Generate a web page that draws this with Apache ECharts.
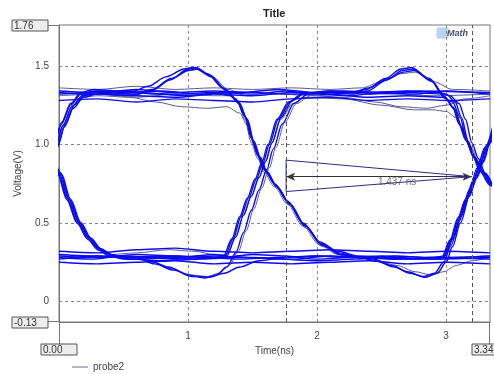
<!DOCTYPE html>
<html>
<head>
<meta charset="utf-8">
<script src="https://cdn.jsdelivr.net/npm/echarts@6/dist/echarts.min.js"></script>
<style>
  html, body { margin: 0; padding: 0; background: #fff; }
  #chart { width: 494px; height: 374px; }
</style>
</head>
<body>
<div id="chart"></div>
<script>
  // axis range (ns / V)
  const xRange = [0, 3.34]
  const yRange = [-0.13, 1.76]

  // eye traces, [time(ns), voltage(V)]
  // traces that start on the high level
  const startHigh = [
    [[0,1.33],[0.25,1.32],[0.5,1.34],[0.75,1.32],[1.0,1.31],[1.25,1.33],[1.5,1.32],[1.75,1.34],[2.0,1.32],[2.25,1.31],[2.5,1.33],[2.75,1.32],[3.0,1.34],[3.34,1.32]],
    [[0,1.28],[0.3,1.29],[0.6,1.27],[0.9,1.29],[1.2,1.28],[1.5,1.27],[1.8,1.29],[2.1,1.30],[2.4,1.28],[2.7,1.29],[3.0,1.28],[3.34,1.29]],
    [[0,1.36],[0.3,1.35],[0.6,1.37],[0.9,1.35],[1.2,1.36],[1.5,1.35],[1.8,1.36],[2.1,1.35],[2.35,1.36],[2.5,1.40],[2.65,1.45],[2.76,1.46],[2.9,1.40],[3.05,1.35],[3.34,1.34]],
    [[0,1.32],[0.3,1.33],[0.6,1.32],[0.72,1.35],[0.87,1.42],[1.0,1.47],[1.07,1.48],[1.18,1.43],[1.30,1.34],[1.39,1.27],[1.46,1.16],[1.51,1.02],[1.56,0.92],[1.61,0.83],[1.69,0.73],[1.79,0.62],[1.91,0.48],[2.04,0.36],[2.18,0.30],[2.34,0.28],[2.6,0.27],[2.9,0.28],[3.34,0.27]],
    [[0,1.34],[0.3,1.33],[0.6,1.35],[0.9,1.33],[1.2,1.34],[1.5,1.33],[1.8,1.32],[2.1,1.34],[2.4,1.33],[2.7,1.34],[2.95,1.33],[3.03,1.31],[3.10,1.26],[3.15,1.16],[3.20,1.01],[3.25,0.91],[3.30,0.82],[3.38,0.73],[3.48,0.62]],
    [[0,1.31],[0.3,1.32],[0.6,1.30],[0.9,1.32],[1.2,1.31],[1.32,1.31],[1.39,1.26],[1.44,1.16],[1.49,1.01],[1.54,0.91],[1.59,0.82],[1.67,0.73],[1.77,0.62],[1.89,0.48],[2.02,0.36],[2.16,0.30],[2.32,0.28],[2.46,0.26],[2.62,0.23],[2.76,0.19],[2.88,0.17],[2.98,0.19],[3.08,0.23],[3.2,0.26],[3.34,0.28]]
  ]

  // traces that start on the low level
  const startLow = [
    [[0,0.28],[0.25,0.27],[0.5,0.29],[0.75,0.28],[1.0,0.27],[1.25,0.28],[1.5,0.30],[1.75,0.29],[2.0,0.27],[2.25,0.28],[2.5,0.29],[2.75,0.27],[3.0,0.28],[3.34,0.29]],
    [[0,0.25],[0.3,0.24],[0.6,0.25],[0.9,0.26],[1.2,0.24],[1.5,0.25],[1.8,0.24],[2.1,0.25],[2.4,0.26],[2.7,0.24],[3.0,0.25],[3.34,0.24]],
    [[0,0.29],[0.3,0.28],[0.6,0.30],[0.9,0.29],[1.15,0.28],[1.28,0.28],[1.35,0.40],[1.41,0.54],[1.47,0.66],[1.53,0.78],[1.58,0.88],[1.63,1.00],[1.70,1.16],[1.79,1.27],[1.89,1.32],[2.2,1.34],[2.5,1.33],[2.8,1.34],[3.34,1.33]],
    [[0,0.27],[0.3,0.29],[0.6,0.28],[0.9,0.27],[1.2,0.29],[1.5,0.28],[1.8,0.27],[2.1,0.29],[2.4,0.28],[2.7,0.27],[2.97,0.28],[3.04,0.40],[3.10,0.54],[3.16,0.66],[3.22,0.78],[3.27,0.88],[3.32,1.00],[3.39,1.16]],
    [[0,0.30],[0.3,0.29],[0.6,0.27],[0.9,0.28],[1.2,0.30],[1.30,0.29],[1.37,0.41],[1.43,0.55],[1.49,0.67],[1.55,0.79],[1.60,0.89],[1.65,1.01],[1.72,1.17],[1.81,1.28],[1.91,1.33],[2.1,1.32],[2.28,1.33],[2.40,1.36],[2.55,1.42],[2.67,1.46],[2.75,1.47],[2.89,1.40],[3.00,1.29],[3.07,1.22],[3.12,1.11],[3.17,1.01],[3.23,0.91],[3.29,0.82],[3.37,0.73],[3.47,0.62]],
    [[0,0.32],[0.3,0.31],[0.6,0.33],[0.9,0.34],[1.2,0.32],[1.5,0.31],[1.8,0.32],[2.1,0.33],[2.4,0.32],[2.7,0.31],[3.0,0.32],[3.34,0.31]]
  ]

  // traces rising through the left edge
  const startRising = [
    [[-0.08,0.88],[-0.03,0.98],[0.03,1.12],[0.10,1.24],[0.18,1.31],[0.28,1.33],[0.45,1.32],[0.60,1.32],[0.71,1.34],[0.86,1.41],[1.0,1.48],[1.06,1.49],[1.17,1.44],[1.29,1.35],[1.38,1.28],[1.45,1.17],[1.50,1.03],[1.55,0.92],[1.60,0.83],[1.68,0.74],[1.78,0.63],[1.90,0.49],[2.03,0.37],[2.17,0.31],[2.33,0.28],[2.45,0.26],[2.60,0.22],[2.72,0.18],[2.84,0.155],[2.93,0.18],[3.0,0.25],[3.05,0.35],[3.11,0.50],[3.19,0.70],[3.25,0.84],[3.31,0.97],[3.38,1.13]],
    [[-0.06,0.88],[-0.01,0.99],[0.05,1.13],[0.12,1.25],[0.20,1.31],[0.30,1.34],[0.6,1.33],[0.9,1.32],[1.2,1.33],[1.33,1.31],[1.40,1.26],[1.46,1.15],[1.51,1.01],[1.56,0.91],[1.61,0.82],[1.69,0.73],[1.79,0.62],[1.91,0.48],[2.04,0.36],[2.18,0.30],[2.35,0.28],[2.6,0.29],[2.85,0.28],[2.98,0.28],[3.05,0.40],[3.11,0.54],[3.17,0.66],[3.23,0.78],[3.28,0.88],[3.33,1.00],[3.40,1.16]],
    [[-0.09,0.88],[-0.04,0.99],[0.02,1.13],[0.09,1.25],[0.17,1.32],[0.27,1.34],[0.5,1.33],[0.8,1.34],[1.1,1.32],[1.4,1.33],[1.7,1.35],[2.0,1.33],[2.25,1.33],[2.38,1.35],[2.53,1.42],[2.65,1.48],[2.73,1.49],[2.87,1.42],[2.98,1.31],[3.05,1.24],[3.10,1.13],[3.15,1.03],[3.21,0.93],[3.27,0.84],[3.35,0.75],[3.45,0.64]],
    [[-0.07,0.88],[-0.02,0.99],[0.04,1.13],[0.11,1.25],[0.19,1.31],[0.29,1.32],[0.5,1.31],[0.62,1.32],[0.74,1.35],[0.88,1.42],[1.01,1.47],[1.08,1.48],[1.19,1.43],[1.31,1.35],[1.45,1.31],[1.7,1.32],[2.0,1.31],[2.3,1.33],[2.6,1.32],[2.9,1.31],[3.34,1.32]],
    [[-0.08,0.88],[-0.03,0.98],[0.03,1.12],[0.10,1.24],[0.18,1.30],[0.3,1.31],[0.55,1.30],[0.75,1.27],[0.95,1.24],[1.15,1.23],[1.30,1.24],[1.40,1.20],[1.46,1.12],[1.51,1.00],[1.56,0.90],[1.61,0.82],[1.69,0.72],[1.79,0.61],[1.91,0.47],[2.04,0.35],[2.18,0.30],[2.34,0.28],[2.6,0.29],[2.9,0.28],[3.34,0.29]],
    [[-0.09,0.89],[-0.04,1.00],[0.02,1.14],[0.09,1.26],[0.17,1.33],[0.27,1.35],[0.45,1.34],[0.58,1.34],[0.69,1.37],[0.83,1.43],[0.97,1.48],[1.04,1.49],[1.15,1.45],[1.27,1.36],[1.37,1.29],[1.44,1.18],[1.49,1.04],[1.54,0.93],[1.59,0.84],[1.67,0.75],[1.77,0.64],[1.89,0.50],[2.02,0.38],[2.16,0.32],[2.32,0.29],[2.6,0.28],[2.8,0.27],[2.96,0.27],[3.03,0.39],[3.09,0.53],[3.15,0.65],[3.21,0.77],[3.26,0.87],[3.31,0.99],[3.38,1.15]],
    [[-0.07,0.87],[-0.02,0.97],[0.04,1.11],[0.11,1.23],[0.19,1.30],[0.29,1.32],[0.6,1.31],[0.9,1.30],[1.2,1.32],[1.5,1.31],[1.8,1.33],[2.1,1.32],[2.4,1.30],[2.7,1.31],[2.97,1.30],[3.05,1.27],[3.11,1.17],[3.16,1.02],[3.21,0.92],[3.26,0.83],[3.34,0.74],[3.44,0.63]]
  ]

  // traces falling through the left edge
  const startFalling = [
    [[-0.06,0.92],[0,0.82],[0.07,0.66],[0.15,0.51],[0.23,0.41],[0.31,0.34],[0.40,0.30],[0.52,0.28],[0.60,0.28],[0.70,0.26],[0.85,0.22],[1.0,0.17],[1.13,0.15],[1.22,0.17],[1.30,0.22],[1.37,0.31],[1.43,0.44],[1.49,0.58],[1.55,0.71],[1.61,0.84],[1.66,0.97],[1.73,1.13],[1.82,1.26],[1.93,1.32],[2.1,1.33],[2.27,1.32],[2.39,1.34],[2.54,1.41],[2.66,1.47],[2.74,1.48],[2.88,1.41],[2.99,1.30],[3.06,1.23],[3.11,1.12],[3.16,1.02],[3.22,0.92],[3.28,0.83],[3.36,0.74],[3.46,0.63]],
    [[-0.04,0.92],[0.02,0.81],[0.09,0.65],[0.17,0.50],[0.25,0.40],[0.33,0.33],[0.43,0.29],[0.6,0.28],[0.9,0.29],[1.15,0.28],[1.27,0.28],[1.34,0.40],[1.40,0.54],[1.46,0.66],[1.52,0.78],[1.57,0.88],[1.62,1.00],[1.69,1.16],[1.78,1.27],[1.88,1.32],[2.1,1.34],[2.4,1.32],[2.7,1.33],[3.0,1.32],[3.07,1.27],[3.12,1.17],[3.17,1.02],[3.22,0.92],[3.27,0.83],[3.35,0.74],[3.45,0.63]],
    [[-0.07,0.92],[-0.01,0.82],[0.06,0.66],[0.14,0.51],[0.22,0.41],[0.30,0.34],[0.39,0.30],[0.51,0.28],[0.8,0.29],[1.1,0.28],[1.4,0.27],[1.7,0.28],[2.0,0.29],[2.3,0.28],[2.44,0.27],[2.58,0.23],[2.70,0.19],[2.82,0.16],[2.91,0.18],[2.98,0.25],[3.04,0.36],[3.10,0.51],[3.18,0.71],[3.24,0.85],[3.30,0.98],[3.37,1.14]],
    [[-0.05,0.93],[0.01,0.82],[0.08,0.65],[0.16,0.50],[0.24,0.40],[0.32,0.33],[0.42,0.29],[0.55,0.27],[0.8,0.26],[1.1,0.27],[1.4,0.28],[1.7,0.27],[2.0,0.26],[2.3,0.27],[2.6,0.28],[2.9,0.27],[3.34,0.28]],
    [[-0.05,0.92],[0.01,0.82],[0.08,0.66],[0.16,0.51],[0.24,0.41],[0.32,0.34],[0.41,0.30],[0.53,0.28],[0.62,0.28],[0.72,0.25],[0.87,0.21],[1.02,0.17],[1.15,0.16],[1.24,0.18],[1.32,0.23],[1.39,0.32],[1.45,0.45],[1.51,0.59],[1.57,0.72],[1.63,0.85],[1.68,0.98],[1.75,1.14],[1.84,1.26],[1.95,1.31],[2.2,1.30],[2.45,1.27],[2.65,1.24],[2.85,1.23],[3.0,1.25],[3.15,1.29],[3.34,1.31]],
    [[-0.06,0.90],[0,0.80],[0.07,0.64],[0.15,0.49],[0.23,0.39],[0.31,0.33],[0.41,0.30],[0.6,0.31],[0.85,0.33],[1.05,0.32],[1.2,0.30],[1.30,0.30],[1.37,0.42],[1.43,0.55],[1.49,0.67],[1.55,0.79],[1.60,0.89],[1.65,1.01],[1.72,1.16],[1.81,1.26],[1.91,1.30],[2.2,1.29],[2.5,1.25],[2.75,1.22],[2.9,1.22],[3.0,1.21],[3.08,1.17],[3.14,1.08],[3.19,0.99],[3.25,0.89],[3.31,0.81],[3.39,0.72],[3.49,0.61]],
    [[-0.07,0.91],[-0.01,0.81],[0.06,0.65],[0.14,0.50],[0.22,0.40],[0.30,0.33],[0.39,0.29],[0.51,0.27],[0.62,0.27],[0.74,0.24],[0.89,0.20],[1.03,0.16],[1.16,0.155],[1.28,0.18],[1.40,0.22],[1.55,0.26],[1.75,0.28],[2.0,0.29],[2.3,0.28],[2.6,0.27],[2.9,0.28],[2.99,0.29],[3.06,0.41],[3.12,0.55],[3.18,0.67],[3.24,0.79],[3.29,0.89],[3.34,1.01],[3.41,1.17]]
  ]

  // cursors and the width measurement
  const cursorTimes = [1.76, 3.197]
  const measureTriangle = [[1.76, 0.90], [3.197, 0.795], [1.76, 0.70], [1.76, 0.90]]
  const measureArrow = [[1.76, 0.795], [3.197, 0.795]]
  const measureLabelAt = [2.62, 0.76]
  const measureText = '1.437 ns'

  // a few traces are drawn darker, like in the scope capture
  const darkTraces = ['startHigh2', 'startHigh5', 'startRising3', 'startRising4', 'startFalling4', 'startFalling5']

  const FONT = '"Liberation Sans", Arial, sans-serif'
  const chart = echarts.init(document.getElementById('chart'))

  let traceSeries = []
  const groups = { startHigh, startLow, startRising, startFalling }
  Object.keys(groups).forEach(key => {
    groups[key].forEach((pts, i) => {
      const dark = darkTraces.indexOf(key + i) >= 0
      traceSeries.push({
        type: 'line',
        name: 'probe2',
        data: pts,
        smooth: 0.3,
        smoothMonotone: 'x',
        showSymbol: false,
        silent: true,
        clip: true,
        lineStyle: { width: dark ? 1 : 1.4, color: dark ? '#5a5a92' : '#0b0bef' },
        itemStyle: { color: '#0b0bef' },
        z: dark ? 2 : 3
      })
    })
  })

  function boxLabel(x, y, w, text) {
    return {
      type: 'group', left: x, top: y,
      children: [
        { type: 'rect', shape: { x: 0, y: 0, width: w, height: 11 },
          style: { fill: '#ededed', stroke: '#555', lineWidth: 1 } },
        { type: 'text', x: 2, y: 1,
          style: { text: text, font: '10px ' + FONT, fill: '#333' } }
      ]
    }
  }

  chart.setOption({
    animation: false,
    title: {
      text: 'Title', left: 263, top: 8, padding: 0,
      textStyle: { fontFamily: FONT, fontSize: 11, fontWeight: 'bold', color: '#222' }
    },
    legend: {
      data: [{ name: 'probe2', icon: 'rect', itemStyle: { color: '#6a6a9c' } }],
      left: 72, top: 362, padding: 0,
      itemWidth: 16, itemHeight: 1, itemGap: 8,
      textStyle: { fontFamily: FONT, fontSize: 10, color: '#444' }
    },
    grid: {
      left: 59, right: 4, top: 25, bottom: 52,
      show: true, borderColor: '#777', borderWidth: 1
    },
    xAxis: {
      type: 'value', min: xRange[0], max: xRange[1], interval: 1,
      name: 'Time(ns)', nameLocation: 'middle', nameGap: 24,
      nameTextStyle: { fontFamily: FONT, fontSize: 10, color: '#444' },
      axisLine: { show: true, onZero: false, lineStyle: { color: '#777' } },
      axisTick: { show: false },
      axisLabel: { margin: 9, showMinLabel: false, showMaxLabel: false,
        fontFamily: FONT, fontSize: 10, color: '#444' },
      splitLine: { show: true, showMinLine: false, showMaxLine: false,
        lineStyle: { color: '#888', type: [3, 3], width: 1 } }
    },
    yAxis: {
      type: 'value', min: yRange[0], max: yRange[1], splitNumber: 4,
      name: 'Voltage(V)', nameLocation: 'middle', nameGap: 36,
      nameTextStyle: { fontFamily: FONT, fontSize: 10, color: '#444' },
      axisLine: { show: true, lineStyle: { color: '#777' } },
      axisTick: { show: false },
      axisLabel: { margin: 10, showMinLabel: false, showMaxLabel: false,
        fontFamily: FONT, fontSize: 10, color: '#444',
        formatter: v => (Math.abs(v) < 1e-9 ? '0' : v.toFixed(1)) },
      splitLine: { show: true, showMinLine: false, showMaxLine: false,
        lineStyle: { color: '#888', type: [3, 3], width: 1 } }
    },
    graphic: [
      // frame extensions to the range boxes
      { type: 'line', shape: { x1: 47, y1: 25.5, x2: 59, y2: 25.5 }, style: { stroke: '#777' } },
      { type: 'line', shape: { x1: 47, y1: 321.5, x2: 59, y2: 321.5 }, style: { stroke: '#777' } },
      { type: 'line', shape: { x1: 59.5, y1: 322, x2: 59.5, y2: 344 }, style: { stroke: '#777' } },
      { type: 'line', shape: { x1: 489.5, y1: 322, x2: 489.5, y2: 344 }, style: { stroke: '#777' } },
      boxLabel(11.5, 19.5, 36, yRange[1].toFixed(2)),
      boxLabel(11.5, 316.5, 36, yRange[0].toFixed(2)),
      boxLabel(40.5, 343.5, 36, xRange[0].toFixed(2)),
      boxLabel(471.5, 343.5, 30, xRange[1].toFixed(2)),
      // logo
      { type: 'rect', left: 436, top: 27, shape: { x: 0, y: 0, width: 12, height: 11, r: 2 },
        style: { fill: '#b9d3ec', stroke: '#d8e6f4' } },
      { type: 'text', left: 447, top: 29,
        style: { text: 'Math', font: 'italic bold 9px ' + FONT, fill: '#4d4d6e' } }
    ],
    series: traceSeries.concat([
      {
        type: 'line', name: 'cursor', data: [], silent: true,
        markLine: {
          silent: true, symbol: 'none', animation: false,
          label: { show: false },
          lineStyle: { color: '#555', type: [4, 3], width: 1 },
          data: cursorTimes.map(t => ({ xAxis: t }))
        }
      },
      {
        type: 'line', name: 'triangle', data: measureTriangle, silent: true,
        showSymbol: false, z: 5,
        lineStyle: { color: '#2c2c86', width: 1 }
      },
      {
        type: 'line', name: 'arrow', data: [], silent: true, z: 5,
        markLine: {
          silent: true, animation: false,
          symbol: ['arrow', 'arrow'], symbolSize: [6, 9],
          label: { show: false },
          lineStyle: { color: '#333', type: 'solid', width: 1 },
          data: [[{ coord: measureArrow[0] }, { coord: measureArrow[1] }]]
        }
      },
      {
        type: 'scatter', name: 'measure', data: [measureLabelAt], silent: true,
        symbolSize: 1, itemStyle: { color: 'rgba(0,0,0,0)' }, z: 6,
        label: { show: true, position: 'inside', formatter: measureText,
          fontFamily: FONT, fontSize: 10, color: '#555' }
      }
    ])
  })
</script>
</body>
</html>
